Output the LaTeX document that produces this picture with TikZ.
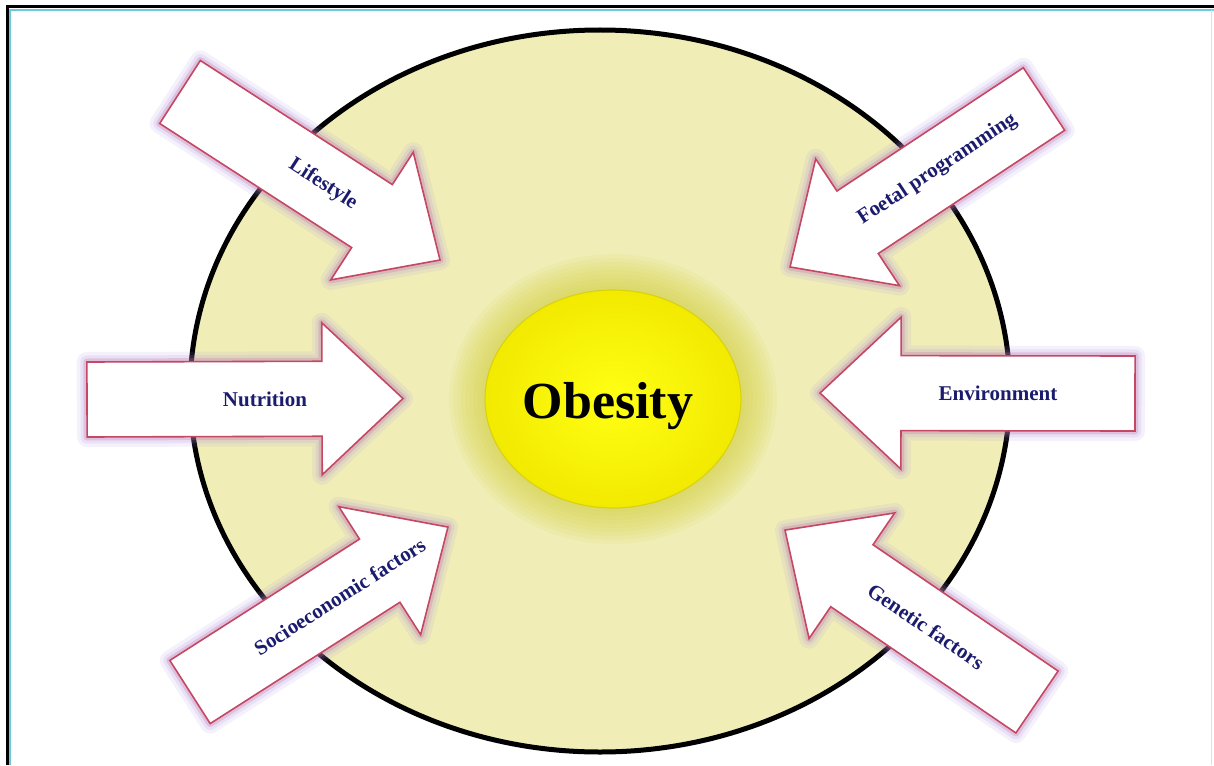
\documentclass[tikz,border=0pt]{standalone}
\usepackage{fontspec}
\setmainfont{Liberation Serif}
\usetikzlibrary{calc}
\definecolor{bgell}{RGB}{240,238,182}
\definecolor{arrowborder}{RGB}{196,72,100}
\definecolor{glowout}{RGB}{170,140,225}
\definecolor{glowin}{RGB}{200,115,160}
\definecolor{labelblue}{RGB}{28,28,110}
\definecolor{frameblue}{RGB}{110,200,215}
\definecolor{halo}{RGB}{212,208,60}
\definecolor{yelin}{RGB}{255,255,20}
\definecolor{yelout}{RGB}{242,234,0}
\newcommand{\arrowoutline}[1]{(0,-37.5) -- ({#1-81},-37.5) -- ({#1-81},-76) -- (#1,0) -- ({#1-81},76) -- ({#1-81},37.5) -- (0,37.5) -- cycle}
\newcommand{\factorarrow}[3]{%
  \begin{scope}[shift={(#1)}, rotate=#2]
    \draw[glowout, line width=20, opacity=0.12, line join=round] \arrowoutline{#3};
    \draw[glowout, line width=13, opacity=0.16, line join=round] \arrowoutline{#3};
    \draw[glowin, line width=7, opacity=0.28, line join=round] \arrowoutline{#3};
    \draw[fill=white, draw=arrowborder, line width=1.6, line join=miter] \arrowoutline{#3};
  \end{scope}}
\tikzset{
  factorlabel/.style={text=labelblue, font=\fontsize{21}{24}\selectfont\bfseries, inner sep=0pt, sloped},
}
\begin{document}
\begin{tikzpicture}[x=1pt, y=-1pt]
\useasboundingbox (0,0) rectangle (1214,765);
\fill[white] (0,0) rectangle (1214,765);
% frame
\draw[frameblue, line width=2.2] (10,765) -- (10,10) -- (1214,10);
\draw[frameblue!40, line width=1.5] (1211.5,10) -- (1211.5,765);
\draw[black, line width=3] (7,765) -- (7,7) -- (1214,7);
% big ellipse
\draw[fill=bgell, draw=black, line width=5] (600,391) ellipse [x radius=410, y radius=361];
% halo around obesity
\foreach \r in {36,32,28,24,20,16,12,8,4} {
  \fill[halo, opacity=0.09] (613,399) ellipse [x radius={128+\r}, y radius={109+\r}];
}
\shade[inner color=yelin, outer color=yelout] (613,399) ellipse [x radius=128, y radius=109];
\draw[yelout!85!black, line width=1.2, opacity=0.6] (613,399) ellipse [x radius=128, y radius=109];
\node[inner sep=0pt] (obesity) at (608,406) {\fontsize{52}{60}\selectfont\bfseries Obesity};
% coordinates: tail and tip of every arrow
\coordinate (lifeT) at (180,92);   \coordinate (lifeH) at (440,260);
\coordinate (foetT) at (1044,99);  \coordinate (foetH) at (790,267);
\coordinate (nutrT) at (87,399.5); \coordinate (nutrH) at (403,398.5);
\coordinate (envT) at (1135,393.5);\coordinate (envH) at (820,393);
\coordinate (socT) at (190,692);   \coordinate (socH) at (448,527);
\coordinate (genT) at (1037,702);  \coordinate (genH) at (785,530);
% arrows
\factorarrow{lifeT}{-32.87}{309.6}
\factorarrow{foetT}{-146.52}{304.5}
\factorarrow{nutrT}{0.18}{316}
\factorarrow{envT}{-180.09}{315}
\factorarrow{socT}{32.6}{306.2}
\factorarrow{genT}{-214.3}{305.1}
% labels
\path (lifeT) -- (lifeH) node[factorlabel, pos=0.55] (lifestyle) {Lifestyle};
\path (foetT) -- (foetH) node[factorlabel, pos=0.42] (foetal) {Foetal programming};
\path (nutrT) -- (nutrH) node[factorlabel, pos=0.563] (nutrition) {Nutrition};
\path (envT) -- (envH) node[factorlabel, pos=0.435] (environment) {Environment};
\path (socT) -- (socH) node[factorlabel, pos=0.58] (socio) {Socioeconomic factors};
\path (genT) -- (genH) node[factorlabel, pos=0.44] (genetic) {Genetic factors};
\end{tikzpicture}
\end{document}
